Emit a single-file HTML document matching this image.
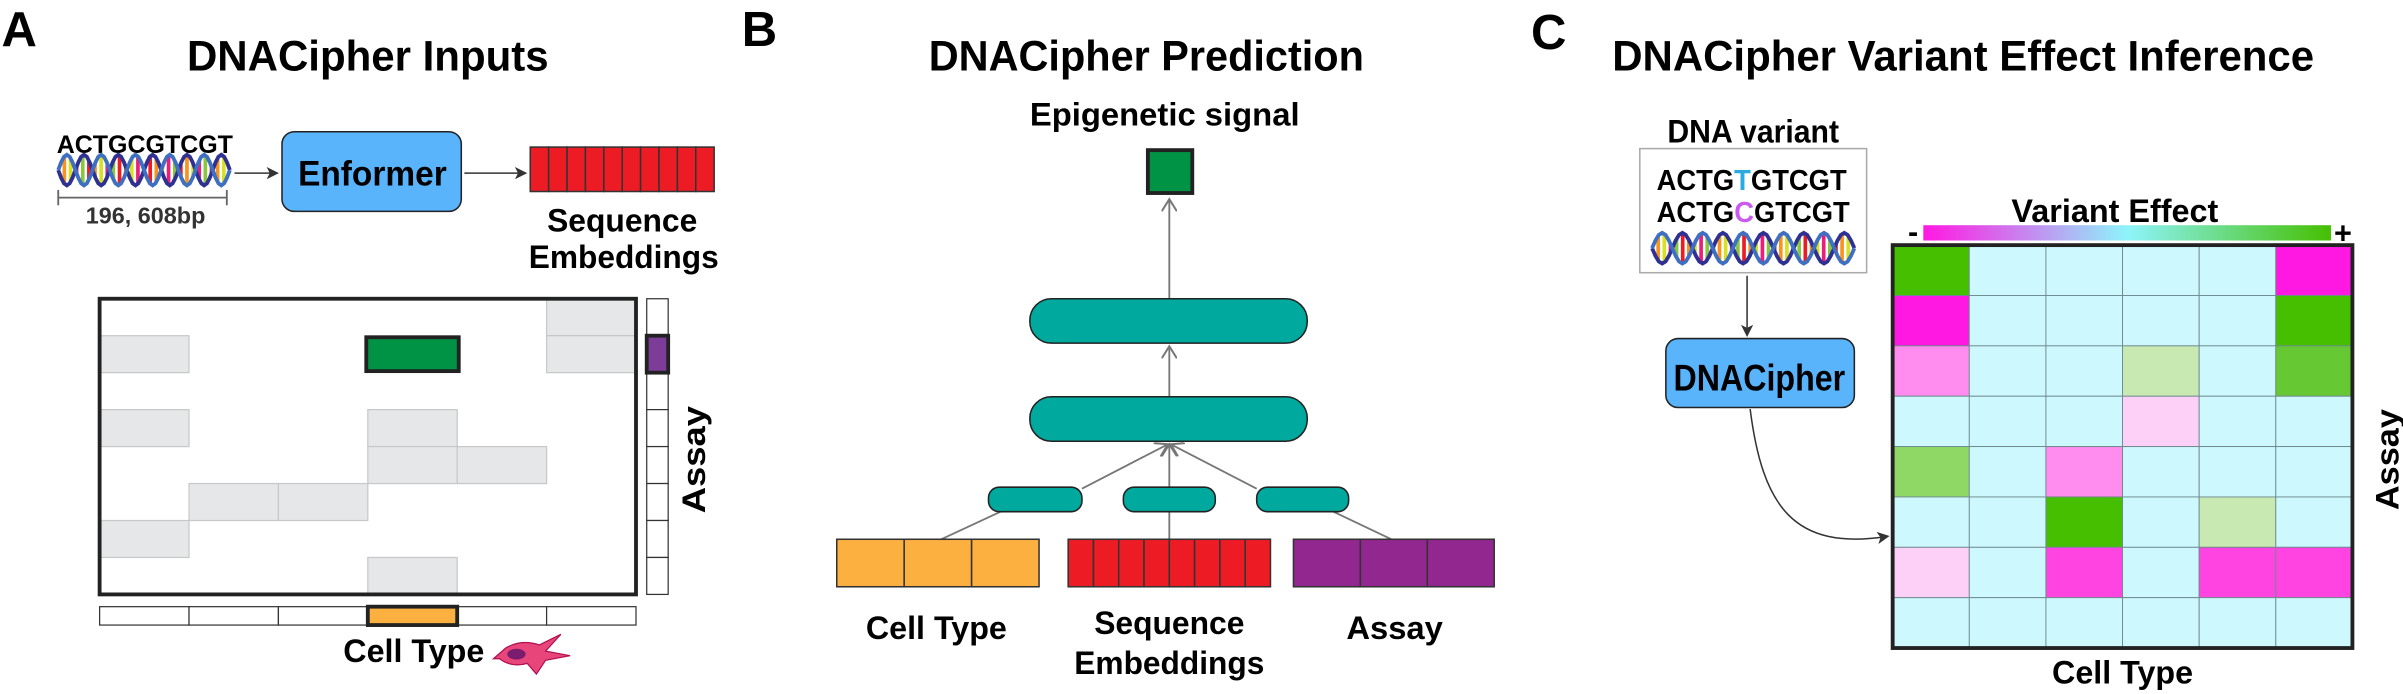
<!DOCTYPE html>
<html><head><meta charset="utf-8"><style>
html,body{margin:0;padding:0;background:#fff;}
svg{display:block;font-family:"Liberation Sans",sans-serif;font-weight:bold;}
</style></head><body>
<svg id="fig" width="2403" height="694" viewBox="0 0 1568 453" preserveAspectRatio="none">
<defs>
<marker id="ar" markerWidth="8" markerHeight="8" refX="7" refY="4" orient="auto" markerUnits="userSpaceOnUse"><path d="M0,0 L8,4 L0,8 L2,4 Z" fill="#333"/></marker>
<marker id="ag" markerWidth="10" markerHeight="10" refX="8" refY="5" orient="auto" markerUnits="userSpaceOnUse"><path d="M0,0 L8,5 L0,10" fill="none" stroke="#777" stroke-width="1.3"/></marker>
<linearGradient id="veg" x1="0" x2="1"><stop offset="0" stop-color="#ff18e2"/><stop offset="0.5" stop-color="#8ef4fb"/><stop offset="1" stop-color="#45bf00"/></linearGradient>
</defs>

<!-- PANEL A -->
<g>
<text x="1" y="30" font-size="32">A</text>
<text x="122" y="46" font-size="28" textLength="236" lengthAdjust="spacingAndGlyphs">DNACipher Inputs</text>
<text x="37" y="100" font-size="16" textLength="115" lengthAdjust="spacingAndGlyphs">ACTGCGTCGT</text>
<g id="helixA"></g>
<line x1="38" y1="129" x2="148" y2="129" stroke="#666" stroke-width="1.2"/>
<line x1="38" y1="124" x2="38" y2="134" stroke="#666" stroke-width="1.2"/>
<line x1="148" y1="124" x2="148" y2="134" stroke="#666" stroke-width="1.2"/>
<text x="95" y="146" font-size="15" fill="#333" text-anchor="middle" textLength="78" lengthAdjust="spacingAndGlyphs">196, 608bp</text>
<line x1="153" y1="113" x2="181" y2="113" stroke="#333" stroke-width="1" marker-end="url(#ar)"/>
<rect x="184" y="86" width="117" height="52" rx="8" fill="#5ab4fc" stroke="#222" stroke-width="1"/>
<text x="243" y="121" font-size="23" text-anchor="middle" textLength="97" lengthAdjust="spacingAndGlyphs">Enformer</text>
<line x1="303" y1="113" x2="343" y2="113" stroke="#333" stroke-width="1" marker-end="url(#ar)"/>
<g id="embA"></g>
<text x="406" y="151" font-size="21" text-anchor="middle" textLength="98" lengthAdjust="spacingAndGlyphs">Sequence</text>
<text x="407" y="175" font-size="21" text-anchor="middle" textLength="124" lengthAdjust="spacingAndGlyphs">Embeddings</text>
<g id="matA"></g>
<text transform="translate(460,300) rotate(-90)" font-size="21" text-anchor="middle" textLength="70" lengthAdjust="spacingAndGlyphs">Assay</text>
<text x="270" y="432" font-size="21" text-anchor="middle" textLength="92" lengthAdjust="spacingAndGlyphs">Cell Type</text>
<g>
<path d="M322,430 L330,423 Q340,417 352,421 L366,414 L356,425 L372,428 L356,431 L350,440 L344,433 Q334,436 326,430 Z" fill="#e8457a" stroke="#b01050" stroke-width="0.8"/>
<ellipse cx="337" cy="427" rx="6" ry="3.5" fill="#7a1d6e"/>
</g>
</g>

<!-- PANEL B -->
<g>
<text x="484" y="30" font-size="32">B</text>
<text x="606" y="46" font-size="28" textLength="284" lengthAdjust="spacingAndGlyphs">DNACipher Prediction</text>
<text x="760" y="82" font-size="21" text-anchor="middle" textLength="176" lengthAdjust="spacingAndGlyphs">Epigenetic signal</text>
<rect x="749" y="98" width="29" height="28" fill="#009245" stroke="#222" stroke-width="2.5"/>
<line x1="763" y1="196" x2="763" y2="130" stroke="#777" stroke-width="1.2" marker-end="url(#ag)"/>
<line x1="763" y1="260" x2="763" y2="226" stroke="#777" stroke-width="1.2" marker-end="url(#ag)"/>
<line x1="706" y1="319" x2="762" y2="290" stroke="#777" stroke-width="1.2" marker-end="url(#ag)"/>
<line x1="763" y1="319" x2="763" y2="290" stroke="#777" stroke-width="1.2" marker-end="url(#ag)"/>
<line x1="820" y1="319" x2="764" y2="290" stroke="#777" stroke-width="1.2" marker-end="url(#ag)"/>
<line x1="655" y1="333" x2="612" y2="353" stroke="#777" stroke-width="1.2"/>
<line x1="763" y1="333" x2="763" y2="353" stroke="#777" stroke-width="1.2"/>
<line x1="868" y1="333" x2="910" y2="353" stroke="#777" stroke-width="1.2"/>
<rect x="672" y="195" width="181" height="29" rx="14" fill="#00a99d" stroke="#222" stroke-width="1"/>
<rect x="672" y="259" width="181" height="29" rx="14" fill="#00a99d" stroke="#222" stroke-width="1"/>
<rect x="645" y="318" width="61" height="16" rx="7" fill="#00a99d" stroke="#222" stroke-width="1"/>
<rect x="733" y="318" width="60" height="16" rx="7" fill="#00a99d" stroke="#222" stroke-width="1"/>
<rect x="820" y="318" width="60" height="16" rx="7" fill="#00a99d" stroke="#222" stroke-width="1"/>
<g id="bottomB"></g>
<text x="611" y="417" font-size="21" text-anchor="middle" textLength="92" lengthAdjust="spacingAndGlyphs">Cell Type</text>
<text x="763" y="414" font-size="21" text-anchor="middle" textLength="98" lengthAdjust="spacingAndGlyphs">Sequence</text>
<text x="763" y="440" font-size="21" text-anchor="middle" textLength="124" lengthAdjust="spacingAndGlyphs">Embeddings</text>
<text x="910" y="417" font-size="21" text-anchor="middle" textLength="63" lengthAdjust="spacingAndGlyphs">Assay</text>
</g>

<!-- PANEL C -->
<g>
<text x="999" y="32" font-size="32">C</text>
<text x="1052" y="46" font-size="28" textLength="458" lengthAdjust="spacingAndGlyphs">DNACipher Variant Effect Inference</text>
<text x="1144" y="93" font-size="21" text-anchor="middle" textLength="112" lengthAdjust="spacingAndGlyphs">DNA variant</text>
<rect x="1070" y="97" width="148" height="81" fill="#fff" stroke="#aaa" stroke-width="1"/>
<text x="1081" y="124" font-size="19" textLength="124" lengthAdjust="spacingAndGlyphs">ACTG<tspan fill="#29abe2">T</tspan>GTCGT</text>
<text x="1081" y="145" font-size="19" textLength="126" lengthAdjust="spacingAndGlyphs">ACTG<tspan fill="#c85af0">C</tspan>GTCGT</text>
<g id="helixC"></g>
<line x1="1140" y1="180" x2="1140" y2="219" stroke="#333" stroke-width="1" marker-end="url(#ar)"/>
<rect x="1087" y="221" width="123" height="45" rx="8" fill="#5ab4fc" stroke="#222" stroke-width="1"/>
<text x="1148" y="255" font-size="24" text-anchor="middle" textLength="112" lengthAdjust="spacingAndGlyphs">DNACipher</text>
<path d="M1142,267 C1150,330 1170,360 1232,350" fill="none" stroke="#333" stroke-width="1" marker-end="url(#ar)"/>
<text x="1380" y="145" font-size="21" text-anchor="middle" textLength="135" lengthAdjust="spacingAndGlyphs">Variant Effect</text>
<rect x="1255" y="147" width="266" height="10" fill="url(#veg)"/>
<text x="1245" y="158" font-size="20">-</text>
<text x="1523" y="159" font-size="20">+</text>
<g id="heat"></g>
<text transform="translate(1565,300) rotate(-90)" font-size="21" text-anchor="middle" textLength="66" lengthAdjust="spacingAndGlyphs">Assay</text>
<text x="1385" y="446" font-size="21" text-anchor="middle" textLength="92" lengthAdjust="spacingAndGlyphs">Cell Type</text>
</g>
</svg>
<script>
// ---- data ----
const heatRows = ["a1","a2","a3","a4","a5","a6","a7","a8"];
const heatCols = ["c1","c2","c3","c4","c5","c6"];
const effectRow0 = [1,0,0,0,0,-1];
const effectRow1 = [-1,0,0,0,0,1];
const effectRow2 = [-0.55,0,0,0.25,0,0.85];
const effectRow3 = [0,0,0,-0.2,0,0];
const effectRow4 = [0.6,0,-0.55,0,0,0];
const effectRow5 = [0,0,1,0,0.25,0];
const effectRow6 = [-0.2,0,-0.8,0,-0.8,-0.8];
const effectRow7 = [0,0,0,0,0,0];
const observedCells = [[0,5],[1,0],[1,5],[3,0],[3,3],[4,3],[4,4],[5,1],[5,2],[6,0],[7,3]];
const targetCell = [1,3];

const NS="http://www.w3.org/2000/svg";
function mk(parent,tag,attrs){const e=document.createElementNS(NS,tag);for(const k in attrs)e.setAttribute(k,attrs[k]);parent.appendChild(e);return e;}

function helix(g,x0,x1,yc,amp){
  const colors=["#ed1c24","#f7931e","#d9e021","#ec1e79","#8cc63f"];
  const n=Math.round((x1-x0)/4);
  for(let i=0;i<n;i++){const x=x0+i*(x1-x0)/n;const ph=(x-x0)/(x1-x0)*5*2*Math.PI;
    const h=Math.abs(Math.sin(ph))*amp;
    mk(g,'line',{x1:x,y1:yc-h,x2:x,y2:yc+h,stroke:colors[i%5],'stroke-width':2.4});}
  let d1="",d2="";
  for(let i=0;i<=60;i++){const x=x0+i*(x1-x0)/60;const ph=i/60*5*2*Math.PI;
    d1+=(i?"L":"M")+x+","+(yc+Math.sin(ph)*amp);d2+=(i?"L":"M")+x+","+(yc-Math.sin(ph)*amp);}
  mk(g,'path',{d:d1,fill:'none',stroke:'#2e3192','stroke-width':2.5});
  mk(g,'path',{d:d2,fill:'none',stroke:'#3f6fc0','stroke-width':2.5});
}
helix(document.getElementById('helixA'),38,150,111,10);
helix(document.getElementById('helixC'),1078,1210,162,10);

function cellBar(g,x,y,w,h,n,fill,name){for(let i=0;i<n;i++){const r=mk(g,'rect',{x:x+i*w/n,y:y,width:w/n,height:h,fill:fill,stroke:'#333','stroke-width':1});

}}
cellBar(document.getElementById('embA'),346,96,120,29,10,'#ed1c24','embedding-cell');
const bB=document.getElementById('bottomB');
cellBar(bB,546,352,132,31,3,'#fbb040','cell-type-vector-cell');
cellBar(bB,697,352,132,31,8,'#ed1c24','sequence-vector-cell');
cellBar(bB,844,352,131,31,3,'#92278f','assay-vector-cell');

(function(){
  const g=document.getElementById('matA');
  const X0=65,Y0=195,W=350,H=193,nr=8,nc=6,cw=W/nc,rh=H/nr;
  observedCells.forEach(([r,c])=>{const e=mk(g,'rect',{x:X0+c*cw,y:Y0+r*rh,width:cw,height:rh,fill:'#e6e7e8',stroke:'#c8c8c8','stroke-width':0.8});
    
    });
  const t=mk(g,'rect',{x:X0+targetCell[1]*cw-1,y:Y0+targetCell[0]*rh+1,width:cw+2,height:rh-2,fill:'#009245',stroke:'#222','stroke-width':2.5});
  
  
  mk(g,'rect',{x:X0,y:Y0,width:W,height:H,fill:'none',stroke:'#222','stroke-width':2.5});
  for(let r=0;r<nr;r++){const e=mk(g,'rect',{x:422,y:Y0+r*rh,width:14,height:rh,fill:'#fff',stroke:'#333','stroke-width':0.8});
    
    }
  const ap=mk(g,'rect',{x:422,y:Y0+targetCell[0]*rh,width:14,height:rh,fill:'#7d3c98',stroke:'#222','stroke-width':2.5});
  
  
  for(let c=0;c<nc;c++){const e=mk(g,'rect',{x:X0+c*cw,y:396,width:cw,height:12,fill:'#fff',stroke:'#333','stroke-width':0.8});
    
    }
  const oc=mk(g,'rect',{x:X0+targetCell[1]*cw,y:396,width:cw,height:12,fill:'#fbb040',stroke:'#222','stroke-width':2.5});
  
  
})();

function hex(h){return [1,3,5].map(i=>parseInt(h.substr(i,2),16));}
const stops=[[-1,"#ff18e2"],[-0.8,"#ff44e2"],[-0.55,"#ff8cee"],[-0.2,"#fdd0f8"],[0,"#cdf8fd"],[0.25,"#c9e9b2"],[0.6,"#8fd866"],[0.85,"#66c832"],[1,"#45bf00"]];
function color(v){for(let i=0;i<stops.length-1;i++){const[a,ca]=stops[i],[b,cb]=stops[i+1];
  if(v>=a&&v<=b){const t=(v-a)/(b-a||1);const A=hex(ca),B=hex(cb);return "rgb("+A.map((x,k)=>Math.round(x+(B[k]-x)*t)).join(",")+")";}}return stops[4][1];}
(function(){
  const g=document.getElementById('heat');
  const X0=1235,Y0=160,W=300,H=263;
  const xs=i=>X0+i*W/heatCols.length, ys=j=>Y0+j*H/heatRows.length;
  const rows=[effectRow0,effectRow1,effectRow2,effectRow3,effectRow4,effectRow5,effectRow6,effectRow7];
  rows.forEach((row,j)=>row.forEach((v,i)=>{
    const e=mk(g,'rect',{x:xs(i),y:ys(j),width:W/heatCols.length,height:H/heatRows.length,fill:color(v),stroke:'#6e8a8e','stroke-width':0.6});
    
    
  }));
  mk(g,'rect',{x:X0,y:Y0,width:W,height:H,fill:'none',stroke:'#222','stroke-width':2.5});
})();
</script>
</body></html>
